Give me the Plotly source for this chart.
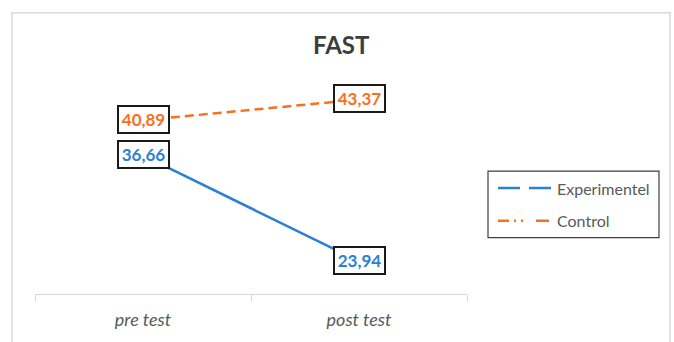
import plotly.graph_objects as go

# ---- data ----
categories = ["pre test", "post test"]
experimentel = [36.66, 23.94]
control = [40.89, 43.37]
series_names = ["Experimentel", "Control"]
chart_title = "FAST"

BLUE = "#2B80D5"
ORANGE = "#F7711E"
GREY_TXT = "#595959"
FONT = "Lato"

W, H = 674, 342
M_L, M_R, M_T, M_B = 35, 207, 86, 46
PW = W - M_L - M_R
PH = H - M_T - M_B


def px_x(px):
    """pixel column -> paper x"""
    return (px - M_L) / PW


def px_y(py):
    """pixel row -> paper y"""
    return (H - M_B - py) / PH


def fmt(v):
    return f"{v:.2f}".replace(".", ",")


fig = go.Figure()

fig.add_trace(go.Scatter(
    x=categories, y=experimentel, mode="lines", name=series_names[0],
    line=dict(color=BLUE, width=2.5), showlegend=False, hoverinfo="skip"))
fig.add_trace(go.Scatter(
    x=categories, y=control, mode="lines", name=series_names[1],
    line=dict(color=ORANGE, width=2.5, dash="9px,5px"), showlegend=False,
    hoverinfo="skip"))

# boxed value labels on each point
annotations = []
for vals, col in ((control, ORANGE), (experimentel, BLUE)):
    for cat, v in zip(categories, vals):
        annotations.append(dict(
            x=cat, y=v, xref="x", yref="y", text=f"<b>{fmt(v)}</b>",
            showarrow=False, xanchor="center", yanchor="middle",
            font=dict(family=FONT, size=17, color=col),
            bgcolor="white", bordercolor="#1a1a1a", borderwidth=2,
            borderpad=1, width=47, height=23, yshift=1))

# title
annotations.append(dict(
    x=px_x(341), y=px_y(44), xref="paper", yref="paper",
    text=f"<b>{chart_title}</b>", showarrow=False,
    xanchor="center", yanchor="middle",
    font=dict(family=FONT, size=24, color="#3d3d3d")))

# legend text
for name, row in zip(series_names, (189, 222)):
    annotations.append(dict(
        x=px_x(555), y=px_y(row), xref="paper", yref="paper", text=name,
        showarrow=False, xanchor="left", yanchor="middle",
        font=dict(family=FONT, size=16, color=GREY_TXT)))

shapes = [
    # outer chart frame
    dict(type="rect", xref="paper", yref="paper",
         x0=px_x(12), x1=px_x(670), y0=px_y(12), y1=px_y(360),
         line=dict(color="#d9d9d9", width=1.5), layer="below"),
    # legend frame
    dict(type="rect", xref="paper", yref="paper",
         x0=px_x(488), x1=px_x(659), y0=px_y(172), y1=px_y(239),
         line=dict(color="#3f3f3f", width=1.2), fillcolor="white"),
    # legend samples
    dict(type="line", xref="paper", yref="paper",
         x0=px_x(498), x1=px_x(551), y0=px_y(189), y1=px_y(189),
         line=dict(color=BLUE, width=2.5, dash="22px,9px")),
    dict(type="line", xref="paper", yref="paper",
         x0=px_x(498), x1=px_x(551), y0=px_y(222), y1=px_y(222),
         line=dict(color=ORANGE, width=2.5,
                   dash="11px,5px,2px,5px,2px,13px,13px")),
]

fig.update_layout(
    width=W, height=H,
    margin=dict(l=M_L, r=M_R, t=M_T, b=M_B),
    paper_bgcolor="white", plot_bgcolor="white",
    showlegend=False,
    annotations=annotations, shapes=shapes,
    xaxis=dict(
        type="category", range=[-0.5, 1.5], tickson="boundaries",
        ticks="outside", ticklen=6, tickcolor="#d9d9d9", tickwidth=1,
        showline=True, linecolor="#d9d9d9", linewidth=1,
        showgrid=False, zeroline=False,
        tickfont=dict(family=FONT, size=18, color=GREY_TXT),
        ticklabelstandoff=9,
    ),
    yaxis=dict(range=[20, 45], visible=False, showgrid=False),
)

# italic category labels
fig.update_xaxes(ticktext=[f"<i>{c}</i>" for c in categories],
                 tickvals=categories)

fig.write_html("out.html")
